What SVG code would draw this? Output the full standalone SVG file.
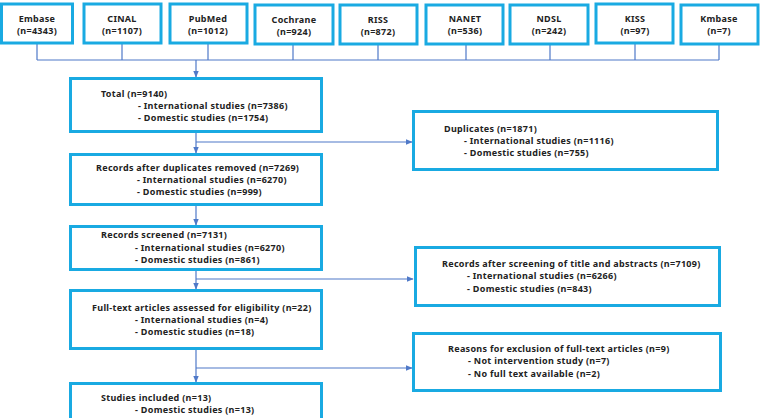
<svg xmlns="http://www.w3.org/2000/svg" width="762" height="418" viewBox="0 0 762 418">
<style>
.box{fill:#fff;stroke:#19aae2;stroke-width:3}
.ln{fill:none;stroke:#4f79c8;stroke-width:1.2}
text{font-family:"Noto Sans","Liberation Sans",Arial,sans-serif;font-weight:bold;font-size:9px;letter-spacing:0.3px;fill:#222}
.c{text-anchor:middle}
</style>
<defs>
<marker id="ah" viewBox="0 0 10 10" refX="9" refY="5" markerWidth="7" markerHeight="7" orient="auto" markerUnits="userSpaceOnUse">
<path d="M0,1 L10,5 L0,9 z" fill="#4f79c8"/>
</marker>
</defs>
<rect width="762" height="418" fill="#fff"/>
<g id="connectors">
<path class="ln" d="M37,44 V60 M122,44 V60 M208,44 V60 M293,44 V60 M378,44 V60 M466,44 V60 M550,44 V60 M635,44 V60 M719,44 V60 M37,60 H719"/>
<path class="ln" d="M196,60 V77" marker-end="url(#ah)"/>
<path class="ln" d="M196,132 V153" marker-end="url(#ah)"/>
<path class="ln" d="M196,142 H412" marker-end="url(#ah)"/>
<path class="ln" d="M196,205 V225" marker-end="url(#ah)"/>
<path class="ln" d="M196,270 V289" marker-end="url(#ah)"/>
<path class="ln" d="M196,279 H413" marker-end="url(#ah)"/>
<path class="ln" d="M196,349 V382" marker-end="url(#ah)"/>
<path class="ln" d="M196,368 H412" marker-end="url(#ah)"/>
</g>
<g id="embase"><rect class="box" x="1.5" y="4" width="71" height="39"/><text class="c" x="37" y="22">Embase</text><text class="c" x="37" y="34">(n=4343)</text></g>
<g id="cinal"><rect class="box" x="84" y="4" width="77" height="39"/><text class="c" x="122" y="22">CINAL</text><text class="c" x="122" y="34">(n=1107)</text></g>
<g id="pubmed"><rect class="box" x="170" y="4" width="77" height="39"/><text class="c" x="208" y="22">PubMed</text><text class="c" x="208" y="34">(n=1012)</text></g>
<g id="cochrane"><rect class="box" x="255" y="5" width="78" height="39"/><text class="c" x="294" y="23">Cochrane</text><text class="c" x="294" y="35">(n=924)</text></g>
<g id="riss"><rect class="box" x="340" y="5" width="77" height="39"/><text class="c" x="378" y="23">RISS</text><text class="c" x="378" y="35">(n=872)</text></g>
<g id="nanet"><rect class="box" x="426" y="5" width="77" height="39"/><text class="c" x="465" y="22">NANET</text><text class="c" x="465" y="34">(n=536)</text></g>
<g id="ndsl"><rect class="box" x="510" y="5" width="78" height="39"/><text class="c" x="549" y="22">NDSL</text><text class="c" x="549" y="34">(n=242)</text></g>
<g id="kiss"><rect class="box" x="596" y="4" width="77" height="39"/><text class="c" x="635" y="22">KISS</text><text class="c" x="635" y="34">(n=97)</text></g>
<g id="kmbase"><rect class="box" x="681" y="5" width="77" height="39"/><text class="c" x="719" y="22">Kmbase</text><text class="c" x="719" y="34">(n=7)</text></g>
<g id="total"><rect class="box" x="70.5" y="78.5" width="251" height="53"/>
<text x="101" y="97">Total (n=9140)</text><text x="138" y="109">- International studies (n=7386)</text><text x="138" y="121">- Domestic studies (n=1754)</text></g>
<g id="duplicates"><rect class="box" x="413.5" y="111.5" width="304" height="58"/>
<text x="444" y="132">Duplicates (n=1871)</text><text x="464" y="144">- International studies (n=1116)</text><text x="464" y="156">- Domestic studies (n=755)</text></g>
<g id="after-dup"><rect class="box" x="70.5" y="154.5" width="251" height="50"/>
<text x="96" y="171">Records after duplicates removed (n=7269)</text><text x="137" y="183">- International studies (n=6270)</text><text x="137" y="195">- Domestic studies (n=999)</text></g>
<g id="screened"><rect class="box" x="70.5" y="226.5" width="251" height="43"/>
<text x="101" y="238">Records screened (n=7131)</text><text x="135" y="251">- International studies (n=6270)</text><text x="135" y="263">- Domestic studies (n=861)</text></g>
<g id="after-screen"><rect class="box" x="415.5" y="247.5" width="304" height="58"/>
<text x="442" y="267">Records after screening of title and abstracts (n=7109)</text><text x="467" y="279">- International studies (n=6266)</text><text x="467" y="292">- Domestic studies (n=843)</text></g>
<g id="fulltext"><rect class="box" x="70.5" y="290.5" width="251" height="58"/>
<text x="92" y="311">Full-text articles assessed for eligibility (n=22)</text><text x="135" y="323">- International studies (n=4)</text><text x="135" y="335">- Domestic studies (n=18)</text></g>
<g id="reasons"><rect class="box" x="413.5" y="333.5" width="307" height="57"/>
<text x="448" y="352">Reasons for exclusion of full-text articles (n=9)</text><text x="468" y="364">- Not intervention study (n=7)</text><text x="468" y="377">- No full text available (n=2)</text></g>
<g id="included"><rect class="box" x="70.5" y="383.5" width="251" height="45"/>
<text x="101" y="401">Studies included (n=13)</text><text x="135" y="413">- Domestic studies (n=13)</text></g>
</svg>
